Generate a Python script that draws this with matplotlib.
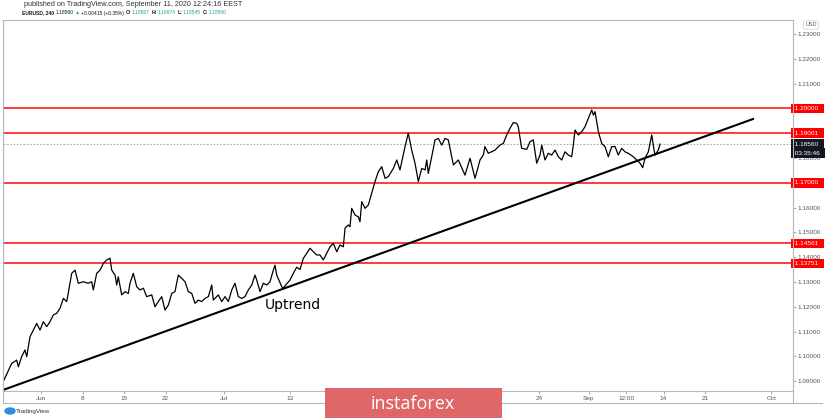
import numpy as np
import matplotlib.pyplot as plt
from matplotlib.patches import Rectangle, Ellipse
from matplotlib.lines import Line2D
import matplotlib.transforms as mtransforms

# EURUSD 4H, x in trading days from Mon Jun 1 2020
days = [-4.46, -3.53, -2.93, -2.73, -2.33, -1.93, -1.72, -1.33, -0.93, -0.52, -0.12, 0.28, 0.69,
        1.08, 1.48, 1.89, 2.29, 2.69, 3.10, 3.49, 3.70, 4.10, 4.49, 5.10, 5.70, 6.11, 6.30, 6.71,
        7.11, 7.51, 7.92, 8.31, 8.52, 8.92, 9.12, 9.31, 9.72, 10.12, 10.52, 10.72, 11.12, 11.53,
        11.93, 12.33, 12.73, 13.34, 13.73, 14.13, 14.54, 14.94, 15.34, 15.75, 16.14, 16.54, 16.95,
        17.35, 17.75, 18.16, 18.55, 18.95, 19.36, 19.76, 20.16, 20.57, 20.76, 21.36, 21.77, 22.17,
        22.57, 22.98, 23.37, 23.77, 24.18, 24.58, 24.98, 25.39, 25.78, 25.99, 26.39, 26.78, 27.19,
        27.59, 27.99, 28.19, 28.40, 29.00, 29.16, 30.00, 30.40, 30.81, 31.20, 31.60, 32.01, 32.41,
        32.81, 33.22, 33.61, 34.01, 34.42, 34.82, 35.22, 35.63, 36.02, 36.42, 36.63, 37.02, 37.23,
        37.43, 37.83, 38.23, 38.43, 38.64, 39.04, 39.43, 39.84, 40.24, 40.64, 41.05, 41.45, 41.84,
        42.45, 42.86, 43.25, 43.86, 44.25, 44.66, 45.06, 45.46, 45.87, 46.27, 46.47, 46.66, 47.07,
        47.47, 47.87, 48.28, 48.67, 49.07, 49.68, 50.28, 51.08, 51.69, 52.29, 52.89, 53.29, 53.49,
        53.89, 54.70, 55.30, 55.70, 56.11, 56.51, 56.90, 57.31, 57.50, 57.91, 58.52, 58.92, 59.31,
        59.72, 60.12, 60.33, 60.72, 61.12, 61.53, 61.93, 62.33, 62.73, 63.13, 63.53, 63.94, 64.13,
        64.34, 64.74, 65.14, 65.54, 65.94, 66.35, 66.55, 66.75, 67.15, 67.55, 67.95, 68.35, 68.76,
        69.16, 69.55, 69.96, 70.36, 70.76, 71.36, 71.77, 72.17, 72.49, 72.77, 73.17, 73.58, 73.86,
        73.98, 74.37, 74.58]
prices = [1.0905, 1.0972, 1.0985, 1.0958, 1.0999, 1.1026, 1.0999, 1.1079, 1.1106, 1.1133, 1.1106,
          1.1140, 1.1120, 1.1140, 1.1167, 1.1174, 1.1194, 1.1234, 1.1221, 1.1295, 1.1335, 1.1348,
          1.1295, 1.1301, 1.1295, 1.1301, 1.1268, 1.1335, 1.1348, 1.1375, 1.1389, 1.1396, 1.1348,
          1.1328, 1.1288, 1.1321, 1.1248, 1.1261, 1.1254, 1.1295, 1.1335, 1.1281, 1.1268, 1.1275,
          1.1241, 1.1248, 1.1200, 1.1221, 1.1241, 1.1187, 1.1207, 1.1254, 1.1261, 1.1328, 1.1315,
          1.1301, 1.1261, 1.1254, 1.1214, 1.1227, 1.1221, 1.1234, 1.1241, 1.1288, 1.1227, 1.1248,
          1.1221, 1.1241, 1.1221, 1.1268, 1.1295, 1.1241, 1.1234, 1.1241, 1.1268, 1.1288, 1.1328,
          1.1308, 1.1261, 1.1295, 1.1288, 1.1301, 1.1348, 1.1368, 1.1328, 1.1281, 1.1275, 1.1308,
          1.1335, 1.1360, 1.1350, 1.1395, 1.1416, 1.1436, 1.1422, 1.1409, 1.1409, 1.1389, 1.1416,
          1.1442, 1.1456, 1.1422, 1.1449, 1.1442, 1.1517, 1.1530, 1.1523, 1.1597, 1.1570, 1.1563,
          1.1543, 1.1624, 1.1597, 1.1610, 1.1658, 1.1705, 1.1745, 1.1765, 1.1718, 1.1725, 1.1758,
          1.1792, 1.1752, 1.1846, 1.1900, 1.1832, 1.1779, 1.1705, 1.1758, 1.1752, 1.1792, 1.1738,
          1.1805, 1.1873, 1.1879, 1.1852, 1.1879, 1.1873, 1.1772, 1.1792, 1.1731, 1.1799, 1.1718,
          1.1792, 1.1812, 1.1846, 1.1819, 1.1832, 1.1852, 1.1859, 1.1893, 1.1920, 1.1943, 1.1940,
          1.1926, 1.1839, 1.1835, 1.1866, 1.1873, 1.1779, 1.1812, 1.1852, 1.1792, 1.1819, 1.1812,
          1.1832, 1.1805, 1.1792, 1.1825, 1.1812, 1.1805, 1.1852, 1.1913, 1.1893, 1.1906, 1.1926,
          1.1960, 1.1994, 1.1973, 1.1987, 1.1906, 1.1859, 1.1846, 1.1805, 1.1846, 1.1846, 1.1812,
          1.1839, 1.1825, 1.1819, 1.1805, 1.1792, 1.1779, 1.1761, 1.1799, 1.1825, 1.1893, 1.1832,
          1.1812, 1.1832, 1.1856]

levels = [1.20000, 1.19001, 1.17000, 1.14561, 1.13751]
last_price = 1.18560
trend_days = [-4.58, 85.78]
trend_prices = [1.08645, 1.19573]

# labels hidden behind the watermark are left out
xtick_pos = [0, 5, 10, 15, 22, 30, 60, 66, 70.5, 75, 80, 88]
xtick_lab = ['Jun', '8', '15', '22', 'Jul', '13', '24', 'Sep', '12:00', '14', '21', 'Oct']
ytick_vals = [1.09, 1.10, 1.11, 1.12, 1.13, 1.14, 1.15, 1.16, 1.18, 1.21, 1.22, 1.23]

W, H = 825, 420
fig = plt.figure(figsize=(W / 100, H / 100), dpi=100)
plt.rcParams['font.family'] = ['Liberation Sans', 'DejaVu Sans']

def fx(px):
    return px / W

def fy(py):
    return 1 - py / H

ax = fig.add_axes([fx(3), fy(391), (793 - 3) / W, (391 - 20) / H])
ax.set_xlim(-4.58, 90.6)
ax.set_ylim(1.08605, 1.23565)

grey = '#b8b8b8'
for s in ax.spines.values():
    s.set_color(grey)
    s.set_linewidth(0.8)

ax.plot(days, prices, color='black', lw=0.9, zorder=4)
ax.plot(trend_days, trend_prices, color='black', lw=1.5, zorder=5)
for lv in levels:
    ax.axhline(lv, color='#ff1a1a', lw=1.2, zorder=3)
ax.axhline(last_price, color='#9a9a9a', lw=0.6, ls=(0, (2, 2)), zorder=2)

ax.text(27.0, 1.1207, 'Uptrend', fontsize=10, color='black', va='center', ha='left',
        family='DejaVu Sans')

ax.yaxis.tick_right()
ax.set_yticks(ytick_vals)
ax.set_yticklabels(['%.5f' % v for v in ytick_vals])
ax.set_xticks(xtick_pos)
ax.set_xticklabels(xtick_lab)
ax.tick_params(axis='both', labelsize=4.6, labelcolor='#555555', color='#888888',
               length=2, width=0.5, pad=1.5)

blend = mtransforms.blended_transform_factory(ax.transAxes, ax.transData)
for lv in levels:
    ax.text(1.0, lv, ' %.5f  ' % lv, transform=blend, fontsize=4.6, color='white',
            va='center', ha='left', clip_on=False, zorder=10,
            bbox=dict(boxstyle='square,pad=0.35', fc='#ff0000', ec='none'))
ax.text(1.0, last_price, ' %.5f  ' % last_price, transform=blend, fontsize=4.6,
        color='white', va='center', ha='left', clip_on=False, zorder=10,
        bbox=dict(boxstyle='square,pad=0.35', fc='#131722', ec='none'))
ax.annotate(' 03:35:46  ', xy=(1.0, last_price), xycoords=blend, xytext=(0, -9),
            textcoords='offset pixels', fontsize=4.6, color='white', va='center',
            ha='left', annotation_clip=False, zorder=10,
            bbox=dict(boxstyle='square,pad=0.35', fc='#131722', ec='none'))

# pane frame
fig.add_artist(Line2D([fx(3), fx(3)], [fy(20), fy(403)], color=grey, lw=0.8))
fig.add_artist(Line2D([fx(793), fx(793)], [fy(20), fy(403)], color=grey, lw=0.8))
fig.add_artist(Line2D([fx(3), fx(822)], [fy(403), fy(403)], color=grey, lw=0.8))
fig.text(fx(811), fy(25), 'USD', fontsize=4, color='#555555', ha='center', va='center',
         bbox=dict(boxstyle='round,pad=0.3', fc='white', ec='#cccccc', lw=0.5))

# header
fig.text(fx(24), fy(5), 'published on TradingView.com, September 11, 2020 12:24:16 EEST',
         fontsize=5.2, color='#333333', va='center')
green = '#26a69a'
hdr = [('EURUSD, 240', '#131722', 'bold', 0), ('1.18560', '#131722', 'normal', 2),
       ('▲', green, 'normal', 1), ('+0.00415 (+0.35%)', '#131722', 'normal', 1),
       ('O:', '#131722', 'bold', 1.5), ('1.18567', green, 'normal', 1),
       ('H:', '#131722', 'bold', 1.5), ('1.18674', green, 'normal', 1),
       ('L:', '#131722', 'bold', 1.5), ('1.18545', green, 'normal', 1),
       ('C:', '#131722', 'bold', 1.5), ('1.18560', green, 'normal', 1)]
prev = None
for s, c, w, gap in hdr:
    if prev is None:
        prev = fig.text(fx(22), fy(13), s, fontsize=3.6, color=c, fontweight=w, va='center')
    else:
        prev = ax.annotate(s, xy=(1, 0.5), xycoords=prev, xytext=(gap, 0),
                           textcoords='offset pixels', fontsize=3.6, color=c, fontweight=w,
                           va='center', ha='left', annotation_clip=False,
                           family=['Liberation Sans', 'DejaVu Sans'])

# footer logos
fig.add_artist(Ellipse((fx(10), fy(411)), 10 / W, 6 / H, color='#2f8de4', transform=fig.transFigure))
fig.text(fx(16), fy(411), 'TradingView', fontsize=4.5, color='#333333', va='center')
fig.add_artist(Rectangle((fx(325), fy(418)), 177 / W, 30 / H, transform=fig.transFigure,
                         fc='#e06767', ec='none', zorder=20))
fig.text(fx(413), fy(404), 'instaforex', fontsize=13, color='white', ha='center', va='center',
         family='Open Sans', zorder=21)

fig.savefig('out.png', dpi=100)
